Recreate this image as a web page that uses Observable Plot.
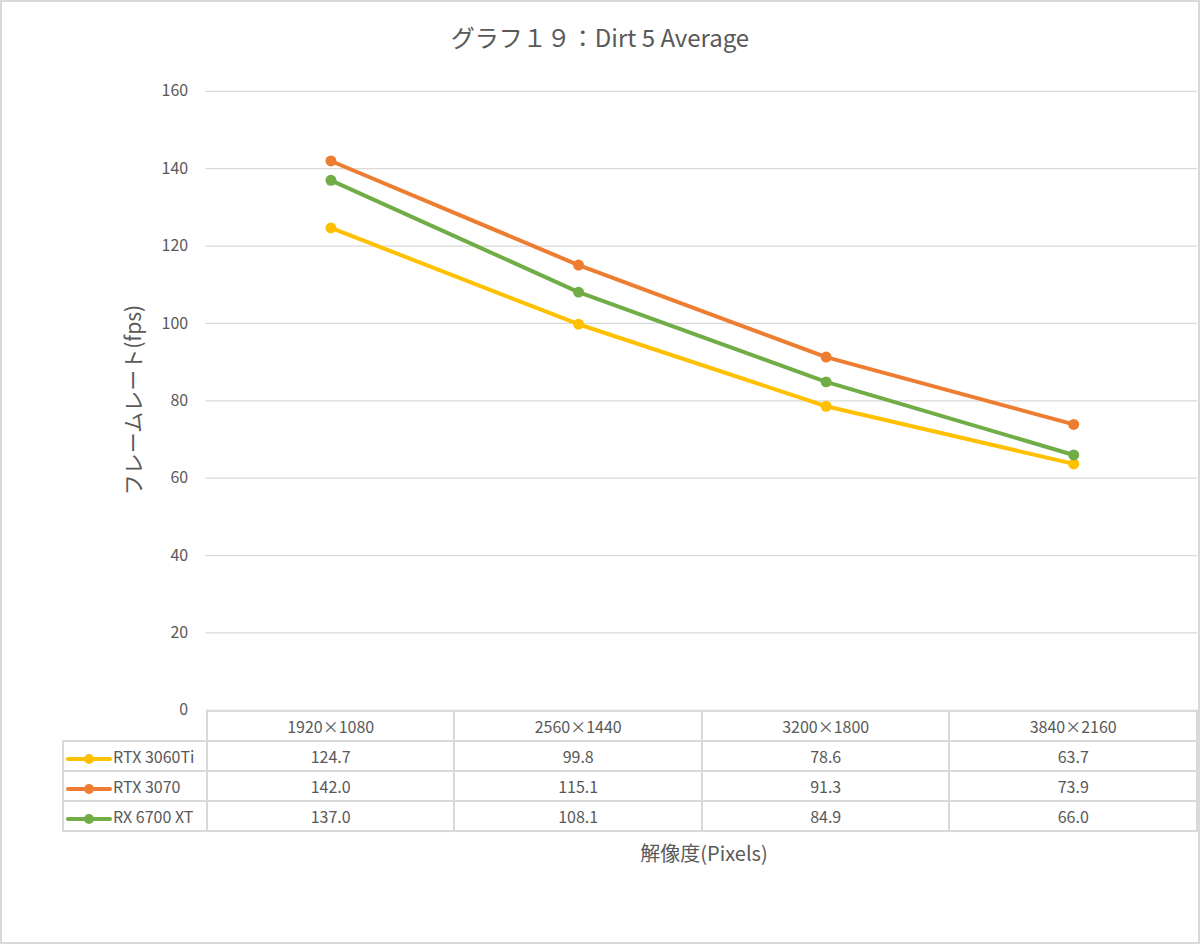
<!DOCTYPE html>
<html>
<head>
<meta charset="utf-8">
<script src="https://cdn.jsdelivr.net/npm/d3@7"></script>
<script src="https://cdn.jsdelivr.net/npm/@observablehq/plot@0.6"></script>
<style>
  html, body { margin: 0; padding: 0; background: #fff; }
  #wrap { position: relative; width: 1200px; height: 944px; box-sizing: border-box; border: 2px solid #d9d9d9; overflow: hidden;
          font-family: "Noto Sans CJK JP", "Noto Sans", sans-serif; color: #595959; }
  #title { position: absolute; left: 0; width: 1196px; top: 17px; text-align: center; font-size: 24px; color: #595959; }
  #chart { position: absolute; left: -2px; top: -2px; }
  #ylab { position: absolute; left: 130px; top: 398px; transform: translate(-50%, -50%) rotate(-90deg); font-size: 21px; white-space: nowrap; color: #595959; }
  #xlab { position: absolute; left: 0; width: 1404px; top: 836px; text-align: center; font-size: 20px; color: #595959; }
  table { position: absolute; left: 60px; top: 708px; border-collapse: collapse; font-size: 16px; color: #595959; }
  td { height: 28px; padding: 0; border: 2px solid #d9d9d9; text-align: center; white-space: nowrap; }
  td.blank { border: none; border-right: 2px solid #d9d9d9; }
  td.name { text-align: left; padding-left: 2px; }
  td.name svg { vertical-align: middle; margin-right: 1px; }
</style>
</head>
<body>
<div id="wrap">
  <div id="title">グラフ１９：Dirt 5 Average</div>
  <div id="chart"></div>
  <div id="ylab">フレームレート(fps)</div>
  <div id="xlab">解像度(Pixels)</div>
</div>
<script>
const categories = ["1920×1080", "2560×1440", "3200×1800", "3840×2160"];
const seriesNames = ["RTX 3060Ti", "RTX 3070", "RX 6700 XT"];
const rtx3060ti = [124.7, 99.8, 78.6, 63.7];
const rtx3070 = [142.0, 115.1, 91.3, 73.9];
const rx6700xt = [137.0, 108.1, 84.9, 66.0];
const colors = ["#FFC000", "#ED7D31", "#70AD47"];
const yTicks = [0, 20, 40, 60, 80, 100, 120, 140, 160];

const seriesValues = [rtx3060ti, rtx3070, rx6700xt];
const data = [];
seriesNames.forEach((s, i) => categories.forEach((c, j) => data.push({series: s, cat: c, value: seriesValues[i][j]})));

const plot = Plot.plot({
  width: 1200,
  height: 944,
  marginLeft: 206,
  marginRight: 1,
  marginTop: 91,
  marginBottom: 233,
  style: {fontFamily: "'Noto Sans CJK JP', 'Noto Sans', sans-serif", fontSize: "16px", color: "#595959", background: "transparent"},
  x: {type: "point", domain: categories, padding: 0.5, axis: null},
  y: {domain: [0, 160], ticks: yTicks, label: null, tickSize: 0, tickPadding: 18},
  color: {domain: seriesNames, range: colors},
  marks: [
    Plot.gridY(yTicks, {stroke: "#d9d9d9", strokeOpacity: 1, strokeWidth: 1.3}),
    Plot.line(data, {x: "cat", y: "value", stroke: "series", strokeWidth: 4, curve: "linear"}),
    Plot.dot(data, {x: "cat", y: "value", fill: "series", r: 5.5})
  ]
});
document.getElementById("chart").appendChild(plot);

// data table below the chart
const table = document.createElement("table");
const head = document.createElement("tr");
const blank = document.createElement("td");
blank.className = "blank";
blank.style.width = "143px";
head.appendChild(blank);
categories.forEach(c => {
  const td = document.createElement("td");
  td.style.width = "246px";
  td.textContent = c;
  head.appendChild(td);
});
table.appendChild(head);
seriesNames.forEach((s, i) => {
  const tr = document.createElement("tr");
  const nm = document.createElement("td");
  nm.className = "name";
  nm.innerHTML = `<svg width="46" height="12"><line x1="2" x2="44" y1="6" y2="6" stroke="${colors[i]}" stroke-width="4" stroke-linecap="round"/><circle cx="23" cy="6" r="5" fill="${colors[i]}"/></svg>${s}`;
  tr.appendChild(nm);
  seriesValues[i].forEach(v => {
    const td = document.createElement("td");
    td.textContent = v.toFixed(1);
    tr.appendChild(td);
  });
  table.appendChild(tr);
});
document.getElementById("wrap").appendChild(table);
</script>
</body>
</html>
